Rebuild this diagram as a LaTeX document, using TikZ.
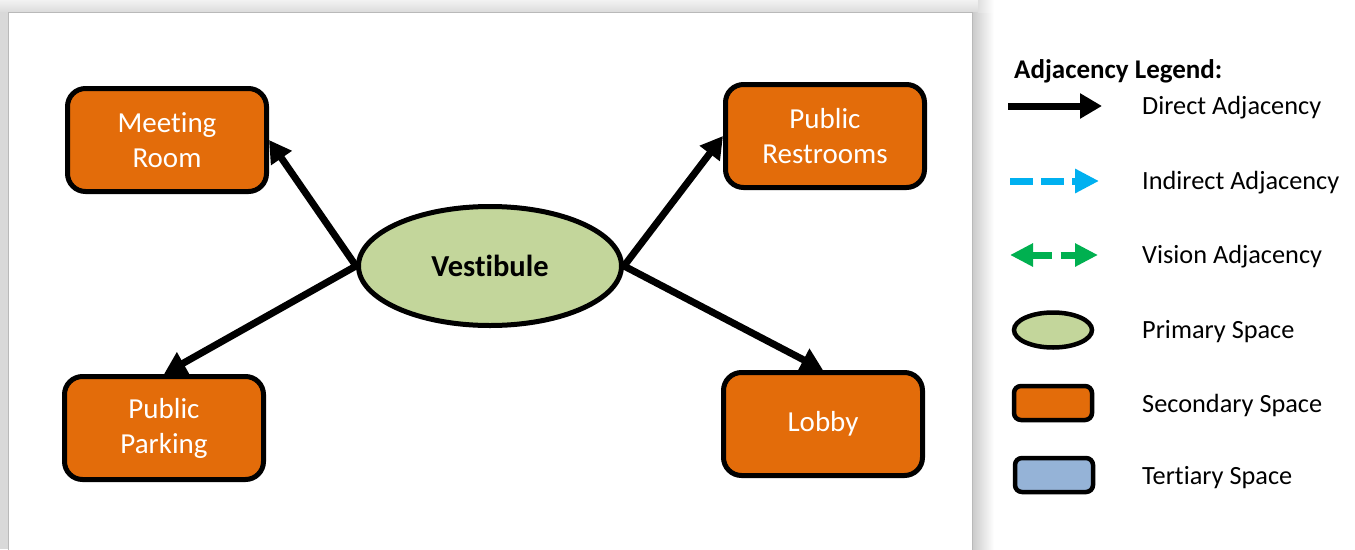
\documentclass[tikz,border=0pt]{standalone}
\usepackage{fontspec}
\setmainfont{Carlito}[Ligatures=NoCommon]
\usetikzlibrary{arrows.meta,shapes.geometric,backgrounds}
\definecolor{spaceorange}{HTML}{E36C0A}
\definecolor{spacegreen}{HTML}{C3D69B}
\definecolor{spaceblue}{HTML}{95B3D7}
\definecolor{indirectblue}{HTML}{00B0F0}
\definecolor{visiongreen}{HTML}{00B050}
\begin{document}
\begin{tikzpicture}[x=1pt,y=-1pt,
  room/.style={rectangle, draw=black, line width=5pt, fill=spaceorange,
    rounded corners=18pt, minimum width=199pt, minimum height=103pt,
    text=white, align=center, font=\fontsize{29}{35}\selectfont},
  primary/.style={ellipse, draw=black, line width=5pt, fill=spacegreen,
    minimum width=263pt, minimum height=119pt,
    font=\fontsize{30.5}{36}\selectfont\bfseries},
  direct/.style={line width=7pt, -{Triangle[length=22pt,width=24pt]}},
  indirect/.style={line width=7pt, indirectblue, dash pattern=on 23pt off 8pt,
    -{Triangle[length=24pt,width=23pt]}},
  vision/.style={line width=7pt, visiongreen, dash pattern=on 20pt off 9pt,
    {Triangle[length=23pt,width=22pt]}-{Triangle[length=23pt,width=22pt]}},
  legtext/.style={anchor=west, font=\fontsize{26.3}{31}\selectfont, inner sep=0pt},
  legprimary/.style={ellipse, draw=black, line width=4.5pt, fill=spacegreen,
    minimum width=78pt, minimum height=35pt, inner sep=0pt},
  legbox/.style={rectangle, draw=black, line width=4.5pt, rounded corners=7pt,
    minimum width=78pt, minimum height=34pt, inner sep=0pt},
]
\useasboundingbox (0,0) rectangle (1355,549);
% canvas and page frame
\begin{scope}[on background layer]
  \clip (0,0) rectangle (1355,549);
  \fill[white] (0,0) rectangle (1355,549);
  \shade[top color=gray!10, bottom color=gray!28] (0,0) rectangle (978,12);
  \fill[gray!30] (0,12) rectangle (8,549);
  \shade[left color=gray!42, right color=white] (972,12) rectangle (994,549);
  \shade[left color=gray!25, right color=white] (978,0) rectangle (994,12);
  \fill[white] (8,12) rectangle (972,560);
  \draw[gray!55, line width=1pt] (8,12) rectangle (972,560);
\end{scope}

% spaces
\node[primary] (vest) at (490,266) {Vestibule};
\node[room] (meet) at (167,140) {Meeting\\Room};
\node[room] (rest) at (825,136) {Public\\Restrooms};
\node[room] (park) at (164,428) {Public\\Parking};
\node[room] (lobby) at (823,424) {Lobby};

% adjacencies, drawn beneath the spaces
\begin{scope}[on background layer]
  \draw[direct] (vest.west) -- (meet.east);
  \draw[direct] (vest.west) -- (park.north);
  \draw[direct] (vest.east) -- (rest.west);
  \draw[direct] (vest.east) -- (lobby.north);
\end{scope}

% legend
\node[anchor=west, inner sep=0pt, font=\fontsize{27}{32}\selectfont\bfseries] (legtitle) at (1014,71) {Adjacency Legend:};

\coordinate (da) at (1008,106);
\coordinate (db) at (1102,106);
\draw[direct] (da) -- (db);
\node[legtext] (dt) at (1142,108) {Direct Adjacency};

\coordinate (ia) at (1010,181);
\coordinate (ib) at (1099,181);
\draw[indirect] (ia) -- (ib);
\node[legtext] (it) at (1142,183) {Indirect Adjacency};

\coordinate (va) at (1010,255);
\coordinate (vb) at (1098,255);
\draw[vision] (va) -- (vb);
\node[legtext] (vt) at (1142,257) {Vision Adjacency};

\node[legprimary] (lp) at (1053,330) {};
\node[legtext] (pt) at (1142,332) {Primary Space};

\node[legbox, fill=spaceorange] (ls) at (1053,403) {};
\node[legtext] (st) at (1142,405) {Secondary Space};

\node[legbox, fill=spaceblue] (lt) at (1054,475) {};
\node[legtext] (tt) at (1142,478) {Tertiary Space};
\end{tikzpicture}
\end{document}
